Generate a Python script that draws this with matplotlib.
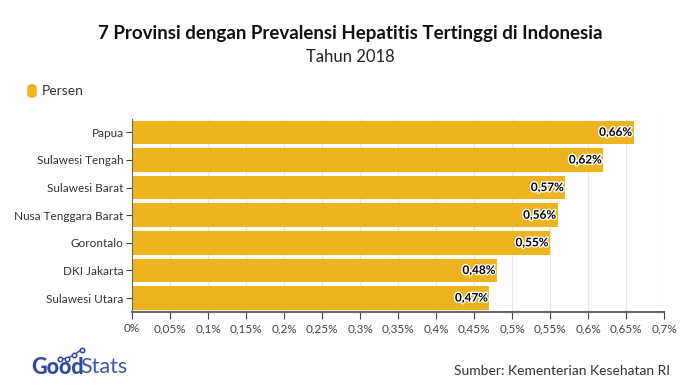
import matplotlib.pyplot as plt
import matplotlib.patheffects as pe
from matplotlib.patches import FancyBboxPatch
from matplotlib.lines import Line2D

provinsi = ["Papua", "Sulawesi Tengah", "Sulawesi Barat", "Nusa Tenggara Barat",
            "Gorontalo", "DKI Jakarta", "Sulawesi Utara"]
persen = [0.66, 0.62, 0.57, 0.56, 0.55, 0.48, 0.47]
xticks = [0, 0.05, 0.1, 0.15, 0.2, 0.25, 0.3, 0.35, 0.4, 0.45, 0.5, 0.55, 0.6, 0.65, 0.7]

plt.rcParams['font.family'] = ['Lato', 'DejaVu Sans']
kuning = "#EDB420"

fig = plt.figure(figsize=(7, 3.85), dpi=100)
ax = fig.add_axes([0.1886, 0.19, 0.76, 0.502])

y = list(range(len(provinsi)))
ax.barh(y, persen, height=0.86, color=kuning, zorder=2)
ax.set_ylim(len(provinsi) - 0.5, -0.5)
ax.set_xlim(0, 0.7)
ax.set_yticks(y)
ax.set_yticklabels(provinsi, fontsize=8.5, color="#333333")
ax.set_xticks(xticks)
ax.set_xticklabels([("%g" % t).replace(".", ",") + "%" for t in xticks],
                   fontsize=8.5, color="#444444")
ax.grid(axis="x", color="#e6e6e6", lw=0.8, zorder=0)
for s in ["top", "right"]:
    ax.spines[s].set_visible(False)
ax.spines["left"].set_color("#666666")
ax.spines["bottom"].set_color("#666666")
ax.spines["bottom"].set_linewidth(1.5)
ax.tick_params(axis="y", length=4, color="#444444", pad=2)
ax.tick_params(axis="x", length=5, color="#444444", pad=3)

for yi, v in zip(y, persen):
    ax.text(v - 0.002, yi, ("%.2f" % v).replace(".", ",") + "%", ha="right", va="center",
            fontsize=8.5, fontweight="bold", color="black", zorder=3,
            path_effects=[pe.withStroke(linewidth=2, foreground="white")])

fig.text(0.5, 0.912, "7 Provinsi dengan Prevalensi Hepatitis Tertinggi di Indonesia",
         ha="center", va="center", fontsize=13.5, fontweight="bold", color="#111111")
fig.text(0.5, 0.852, "Tahun 2018", ha="center", va="center", fontsize=12, color="#222222")

# legenda
fig.patches.append(FancyBboxPatch((28 / 700, 1 - 97 / 385), 8 / 700, 12 / 385,
                                  boxstyle="round,pad=0,rounding_size=0.006",
                                  transform=fig.transFigure, color=kuning))
fig.text(42 / 700, 1 - 91 / 385, "Persen", ha="left", va="center", fontsize=10, color="#333333")

# logo
fig.text(31 / 700, 1 - 367 / 385, "Good", ha="left", va="center", fontsize=15.5,
         fontweight="black", color="#2E4A9E")
fig.text(80 / 700, 1 - 367 / 385, "Stats", ha="left", va="center", fontsize=15.5,
         fontweight="normal", color="#3A58AA")
ikon_x = [60, 67, 74, 81.5]
ikon_y = [359, 358.5, 355, 349.5]
fig.add_artist(Line2D([px / 700 for px in ikon_x], [1 - py / 385 for py in ikon_y],
                      transform=fig.transFigure, color="#2E4A9E", lw=1.1, marker="o",
                      markersize=3.2, markerfacecolor="white", markeredgewidth=1.1))

fig.text(670 / 700, 1 - 371 / 385, "Sumber: Kementerian Kesehatan RI", ha="right",
         va="center", fontsize=10, color="#333333")

fig.savefig("out.png", dpi=100, facecolor="white")
